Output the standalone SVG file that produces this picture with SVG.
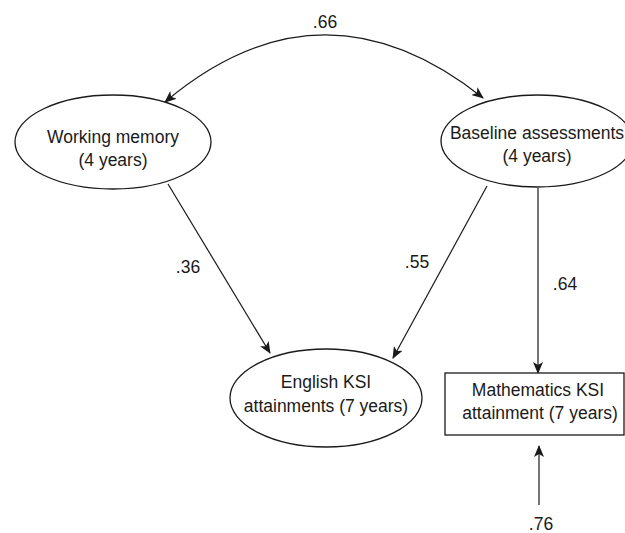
<svg xmlns="http://www.w3.org/2000/svg" width="625" height="533" viewBox="0 0 625 533">
<defs>
<style>
.node{fill:#fff;stroke:#1a1a1a;stroke-width:1.3}
.t{font-family:"Liberation Sans",Arial,sans-serif;font-size:17.5px;fill:#1a1a1a;text-anchor:middle}
.c{fill:none;stroke:#1a1a1a;stroke-width:1.2}
</style>
<marker id="ah" viewBox="0 0 12 10" refX="11" refY="5" markerWidth="12" markerHeight="10" markerUnits="userSpaceOnUse" orient="auto-start-reverse">
<path d="M0,0 L12,5 L0,10 L3,5 Z" fill="#1a1a1a"/>
</marker>
</defs>
<rect width="625" height="533" fill="#fff"/>
<g id="connectors">
<path class="c" d="M165,102 Q322,-30 483,98" marker-start="url(#ah)" marker-end="url(#ah)" stroke="#333"/>
<line class="c" x1="168" y1="184" x2="270" y2="353" marker-end="url(#ah)"/>
<line class="c" x1="487" y1="186" x2="393" y2="358" marker-end="url(#ah)"/>
<line class="c" x1="538" y1="188" x2="538" y2="373" stroke-width="2" marker-end="url(#ah)"/>
<line class="c" x1="539" y1="505" x2="539" y2="446" stroke-width="1.6" marker-end="url(#ah)"/>
</g>
<g id="labels">
<text class="t" x="325" y="28">.66</text>
<text class="t" x="188" y="273">.36</text>
<text class="t" x="417" y="268">.55</text>
<text class="t" x="565" y="290">.64</text>
<text class="t" x="541" y="530">.76</text>
</g>
<g id="working-memory">
<ellipse class="node" cx="113" cy="142" rx="98" ry="47"/>
<text class="t" x="113" y="143">Working memory</text>
<text class="t" x="113" y="166">(4 years)</text>
</g>
<g id="baseline">
<ellipse class="node" cx="537" cy="141" rx="96" ry="46"/>
<text class="t" x="537" y="139">Baseline assessments</text>
<text class="t" x="537" y="162">(4 years)</text>
</g>
<g id="english">
<ellipse class="node" cx="326" cy="398" rx="96" ry="49"/>
<text class="t" x="326" y="388">English KSI</text>
<text class="t" x="326" y="412">attainments (7 years)</text>
</g>
<g id="maths">
<rect class="node" x="445" y="373" width="179" height="62"/>
<text class="t" x="538" y="396">Mathematics KSI</text>
<text class="t" x="540" y="419">attainment (7 years)</text>
</g>
</svg>
